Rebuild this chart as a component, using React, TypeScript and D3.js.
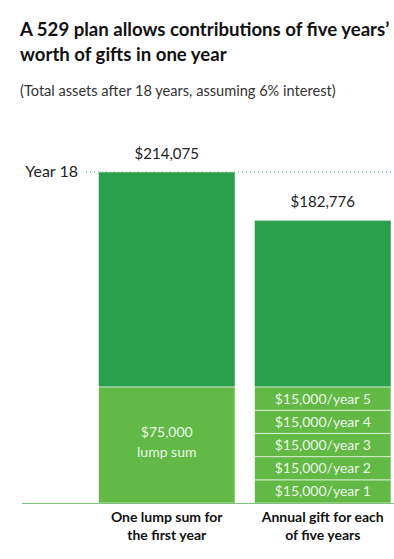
import React from "react";
import * as d3 from "d3";

const categories = ["lump", "annual"];
const categoryLines = [
  ["One lump sum for", "the first year"],
  ["Annual gift for each", "of five years"],
];
const totals = [214075, 182776];
const contributions = [[75000], [15000, 15000, 15000, 15000, 15000]];
const contributionLabels = [
  [["$75,000", "lump sum"]],
  [["$15,000/year 1"], ["$15,000/year 2"], ["$15,000/year 3"], ["$15,000/year 4"], ["$15,000/year 5"]],
];
const markerLabel = "Year 18";

const W = 394,
  H = 559;
const darkGreen = "#2a9f4c";
const lightGreen = "#62b946";
const font = "Lato, sans-serif";

export default function App() {
  const x = d3.scaleBand().domain(categories).range([98.5, 391]).paddingInner(0.125).paddingOuter(0);
  const y = d3.scaleLinear().domain([0, d3.max(totals) as number]).range([503, 172]);
  const fmt = d3.format("$,");

  return (
    <svg width={W} height={H} style={{ position: "absolute", left: 0, top: 0, background: "#fff" }} fontFamily={font}>
      <text x={20} y={36} fontSize={18.6} fontWeight={700} fill="#111">
        A 529 plan allows contributions of five years’
      </text>
      <text x={20} y={61} fontSize={18.6} fontWeight={700} fill="#111">
        worth of gifts in one year
      </text>
      <text x={20} y={96} fontSize={14.6} fill="#333">
        (Total assets after 18 years, assuming 6% interest)
      </text>

      {/* year 18 reference */}
      <line x1={86} x2={W} y1={y(totals[0])} y2={y(totals[0])} stroke={darkGreen} strokeWidth={1} strokeDasharray="1,3" />
      <text x={78} y={y(totals[0]) + 5} fontSize={16} fill="#222" textAnchor="end">
        {markerLabel}
      </text>

      {categories.map((c, i) => {
        const bx = x(c) as number;
        const bw = x.bandwidth();
        const cx = bx + bw / 2;
        const contribSum = d3.sum(contributions[i]);
        const stack = d3.cumsum(contributions[i]);
        return (
          <g key={c}>
            <rect x={bx} y={y(totals[i])} width={bw} height={y(contribSum) - y(totals[i])} fill={darkGreen} stroke="#fff" strokeOpacity={0.45} />
            {contributions[i].map((v, j) => {
              const top = y(stack[j]);
              const bottom = y(stack[j] - v);
              const lines = contributionLabels[i][j];
              const mid = (top + bottom) / 2;
              return (
                <g key={j}>
                  <rect x={bx} y={top} width={bw} height={bottom - top} fill={lightGreen} stroke="#fff" strokeOpacity={0.6} />
                  {lines.map((t, k) => (
                    <text
                      key={k}
                      x={cx}
                      y={mid + 5 + (k - (lines.length - 1) / 2) * 20 - (lines.length > 1 ? 3 : 0)}
                      fontSize={14}
                      fill="#fff"
                      fillOpacity={0.9}
                      textAnchor="middle"
                    >
                      {t}
                    </text>
                  ))}
                </g>
              );
            })}
            <text x={cx} y={y(totals[i]) - 13} fontSize={15} fill="#222" textAnchor="middle">
              {fmt(totals[i])}
            </text>
            {categoryLines[i].map((t, k) => (
              <text key={k} x={cx} y={522 + k * 18} fontSize={14} fontWeight={700} fill="#111" textAnchor="middle">
                {t}
              </text>
            ))}
          </g>
        );
      })}

      <line x1={22} x2={W} y1={y(0) + 0.5} y2={y(0) + 0.5} stroke="#7cc47f" strokeWidth={1.2} />
    </svg>
  );
}
